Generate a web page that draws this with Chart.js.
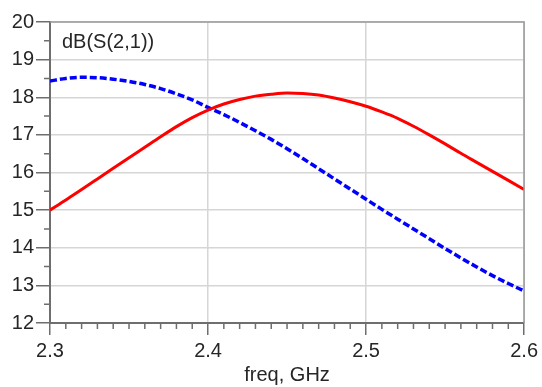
<!DOCTYPE html>
<html>
<head>
<meta charset="utf-8">
<script src="https://cdn.jsdelivr.net/npm/chart.js@4"></script>
<style>
  body { margin: 0; background: #fff; }
  #wrap { width: 542px; height: 387px; }
</style>
</head>
<body>
<div id="wrap"><canvas id="myChart" width="542" height="387"></canvas></div>
<script>
// frequency sweep, GHz
const freq = [2.30, 2.31, 2.32, 2.33, 2.34, 2.35, 2.36, 2.37, 2.38, 2.39,
              2.40, 2.41, 2.42, 2.43, 2.44, 2.45, 2.46, 2.47, 2.48, 2.49,
              2.50, 2.51, 2.52, 2.53, 2.54, 2.55, 2.56, 2.57, 2.58, 2.59, 2.60];

// dB(S(2,1)) - solid trace
const s21Solid = [15.00, 15.27, 15.55, 15.83, 16.11, 16.39, 16.67, 16.95, 17.22, 17.46,
                  17.66, 17.82, 17.94, 18.03, 18.08, 18.11, 18.10, 18.06, 17.98, 17.88,
                  17.76, 17.61, 17.44, 17.23, 17.00, 16.76, 16.51, 16.27, 16.03, 15.79, 15.55];

// dB(S(2,1)) - dashed trace
const s21Dashed = [18.43, 18.50, 18.53, 18.52, 18.48, 18.42, 18.34, 18.23, 18.09, 17.93,
                   17.73, 17.54, 17.33, 17.11, 16.88, 16.63, 16.37, 16.10, 15.83, 15.56,
                   15.29, 15.02, 14.76, 14.50, 14.24, 13.98, 13.73, 13.49, 13.26, 13.05, 12.85];

const xTicks = [2.3, 2.4, 2.5, 2.6];
const yTicks = [12, 13, 14, 15, 16, 17, 18, 19, 20];

const axisColor = "#6e6e6e";
const gridColor = "#d6d6d6";
const textColor = "#262626";
const font = { family: "Liberation Sans, Arial, sans-serif", size: 20 };

// minor ticks, box edges and the trace name inside the plot
const extras = {
  id: "extras",
  afterDraw(chart) {
    const { ctx, chartArea: a, scales: { x, y } } = chart;
    ctx.save();
    ctx.strokeStyle = axisColor;
    ctx.lineWidth = 1.5;
    ctx.beginPath();
    for (let i = 0; i <= 30; i++) {
      if (i % 10 === 0) continue;
      const px = x.getPixelForValue(2.3 + i * 0.01);
      ctx.moveTo(px, a.bottom);
      ctx.lineTo(px, a.bottom + 6);
    }
    for (let v = 12.5; v < 20; v += 1) {
      const py = y.getPixelForValue(v);
      ctx.moveTo(a.left, py);
      ctx.lineTo(a.left - 6, py);
    }
    ctx.stroke();

    ctx.strokeStyle = "#9a9a9a";
    ctx.lineWidth = 1.5;
    ctx.beginPath();
    ctx.moveTo(a.left, a.top);
    ctx.lineTo(a.right, a.top);
    ctx.lineTo(a.right, a.bottom);
    ctx.stroke();

    ctx.fillStyle = textColor;
    ctx.font = "20px " + font.family;
    ctx.textBaseline = "middle";
    ctx.textAlign = "left";
    ctx.fillText("dB(S(2,1))", a.left + 12, a.top + 20);
    ctx.restore();
  }
};

new Chart(document.getElementById("myChart").getContext("2d"), {
  type: "line",
  data: {
    datasets: [
      {
        label: "dB(S(2,1))",
        data: freq.map((f, i) => ({ x: f, y: s21Solid[i] })),
        borderColor: "#ff0000",
        borderWidth: 3,
        pointRadius: 0,
        cubicInterpolationMode: "monotone"
      },
      {
        label: "dB(S(2,1))",
        data: freq.map((f, i) => ({ x: f, y: s21Dashed[i] })),
        borderColor: "#0000ff",
        borderWidth: 3.5,
        borderDash: [7, 3],
        pointRadius: 0,
        cubicInterpolationMode: "monotone"
      }
    ]
  },
  options: {
    responsive: false,
    animation: false,
    layout: { padding: { left: 0, right: 16, top: 22, bottom: 0 } },
    plugins: { legend: { display: false }, tooltip: { enabled: false } },
    scales: {
      x: {
        type: "linear",
        min: 2.3,
        max: 2.6,
        afterBuildTicks: (s) => { s.ticks = xTicks.map((v) => ({ value: v })); },
        afterFit: (s) => { s.height = 64; },
        ticks: {
          color: textColor,
          font: font,
          padding: 4,
          maxRotation: 0,
          callback: (v) => v.toFixed(1)
        },
        grid: { color: gridColor, lineWidth: 1.5, tickColor: axisColor, tickLength: 12, tickWidth: 1.5 },
        border: { color: axisColor, width: 2 },
        title: { display: true, text: "freq, GHz", color: textColor, font: font, padding: { top: 4, bottom: 0 } }
      },
      y: {
        min: 12,
        max: 20,
        afterBuildTicks: (s) => { s.ticks = yTicks.map((v) => ({ value: v })); },
        afterFit: (s) => { s.width = 50; },
        ticks: { color: textColor, font: font, padding: 2 },
        grid: { color: gridColor, lineWidth: 1.5, tickColor: axisColor, tickLength: 14, tickWidth: 1.5 },
        border: { color: axisColor, width: 2 }
      }
    }
  },
  plugins: [extras]
});
</script>
</body>
</html>
